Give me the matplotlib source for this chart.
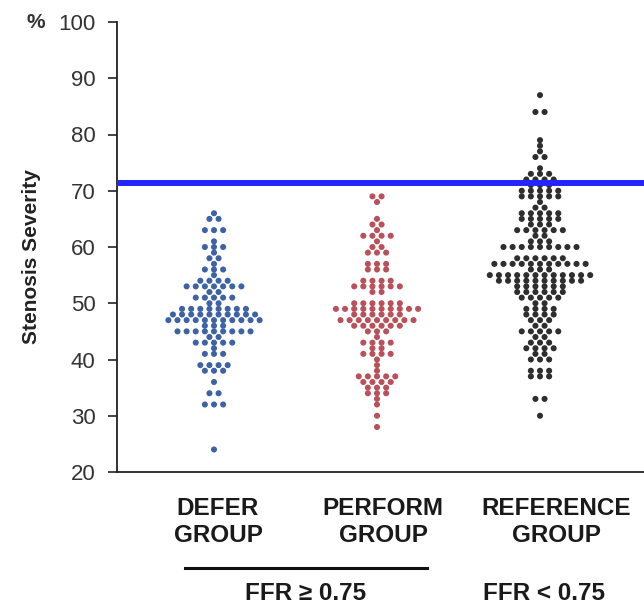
import numpy as np
import matplotlib
matplotlib.use("Agg")
import matplotlib.pyplot as plt

groups = ["DEFER\nGROUP", "PERFORM\nGROUP", "REFERENCE\nGROUP"]
colors = ["#3d62a6", "#b9505a", "#2e2e2e"]

defer_values = [66, 65, 63, 61, 60, 59, 58, 57, 56, 55, 54, 53, 52, 51, 50, 49, 48, 47, 46, 45, 44, 43, 42, 41, 39, 38, 36, 34, 32, 24]
defer_counts = [1, 2, 3, 1, 3, 1, 2, 1, 3, 1, 4, 7, 2, 5, 2, 8, 10, 11, 3, 9, 2, 5, 1, 3, 4, 3, 1, 2, 3, 1]

perform_values = [69, 68, 65, 64, 63, 62, 61, 60, 59, 57, 56, 54, 53, 52, 50, 49, 48, 47, 46, 45, 44, 43, 42, 41, 40, 39, 38, 37, 36, 35, 34, 33, 32, 30, 28]
perform_counts = [2, 1, 1, 2, 1, 4, 1, 2, 3, 3, 3, 4, 6, 2, 6, 10, 6, 9, 6, 3, 1, 4, 2, 4, 1, 1, 1, 5, 4, 3, 3, 1, 1, 1, 1]

reference_values = [87, 84, 79, 78, 77, 76, 74, 73, 72, 71, 70, 69, 68, 67, 66, 65, 64, 63, 62, 61, 60, 58, 57, 56, 55, 54, 53, 52, 51, 50, 49, 48, 47, 46, 45, 44, 43, 42, 41, 40, 38, 37, 33, 30]
reference_counts = [1, 2, 1, 1, 1, 2, 1, 3, 4, 3, 5, 5, 1, 2, 5, 5, 3, 6, 2, 3, 9, 6, 11, 3, 12, 10, 6, 6, 5, 2, 4, 4, 3, 2, 5, 2, 3, 4, 2, 3, 3, 3, 2, 1]

threshold = 71.4
yticks = [20, 30, 40, 50, 60, 70, 80, 90, 100]
ytick_labels = ["20", "30", "40", "50", "60", "70", "80", "90", "100"]

fig = plt.figure(figsize=(6.44, 6.06), dpi=100)
fig.patch.set_facecolor("white")
ax = fig.add_axes([117/644, 1-472/606, 1-117/644, (472-22)/606])

data = [(defer_values, defer_counts), (perform_values, perform_counts), (reference_values, reference_counts)]
dx = 0.056
for i, ((vals, cnts), c) in enumerate(zip(data, colors)):
    xs, ys = [], []
    for v, n in zip(vals, cnts):
        offs = (np.arange(n) - (n - 1) / 2) * dx
        xs.extend(i + 1 + offs)
        ys.extend([v] * n)
    ax.scatter(xs, ys, s=19, color=c, edgecolors="none", zorder=3)

ax.axhline(threshold, color="#2424ff", lw=4.3, zorder=4)

ax.set_xlim(1 - 97/163, 1 + (644-214)/163)
ax.set_ylim(20, 100)
for s in ["top", "right"]:
    ax.spines[s].set_visible(False)
ax.spines["left"].set_linewidth(1.3)
ax.spines["bottom"].set_linewidth(1.3)
ax.spines["left"].set_color("#222222")
ax.spines["bottom"].set_color("#222222")
ax.set_xticks([])
ax.set_yticks(yticks)
ax.set_yticklabels(ytick_labels)
ax.tick_params(axis="y", direction="out", length=6.5, width=1.2, colors="#222222",
               labelsize=16, labelcolor="#333333", pad=9)
for t in ax.get_yticklabels():
    t.set_family("Liberation Sans")

fig.text(36/644, 1-22/606, "%", ha="center", va="center", fontsize=15,
         fontweight="bold", family="Liberation Sans", color="#333333")

fig.text(32/644, 1-257/606, "Stenosis Severity", rotation=90, ha="center", va="center",
         fontsize=15, fontweight="bold", family="Liberation Sans", color="#222222")

label_x = [218, 383, 556]
for lx, g in zip(label_x, groups):
    fig.text(lx/644, 1-522/606, g, ha="center", va="center", fontsize=17.5,
             fontweight="bold", family="Liberation Sans", color="#1a1a1a", linespacing=1.2)

fig.add_artist(plt.Line2D([185/644, 427/644], [1-568/606, 1-568/606], color="#111111", lw=2.2))
fig.text(306/644, 1-593/606, "FFR ≥ 0.75", ha="center", va="center", fontsize=17.5,
         fontweight="bold", family=["Liberation Sans", "DejaVu Sans"], color="#1a1a1a")
fig.text(544/644, 1-593/606, "FFR < 0.75", ha="center", va="center", fontsize=17.5,
         fontweight="bold", family="Liberation Sans", color="#1a1a1a")

fig.savefig("out.png", dpi=100, facecolor="white")
